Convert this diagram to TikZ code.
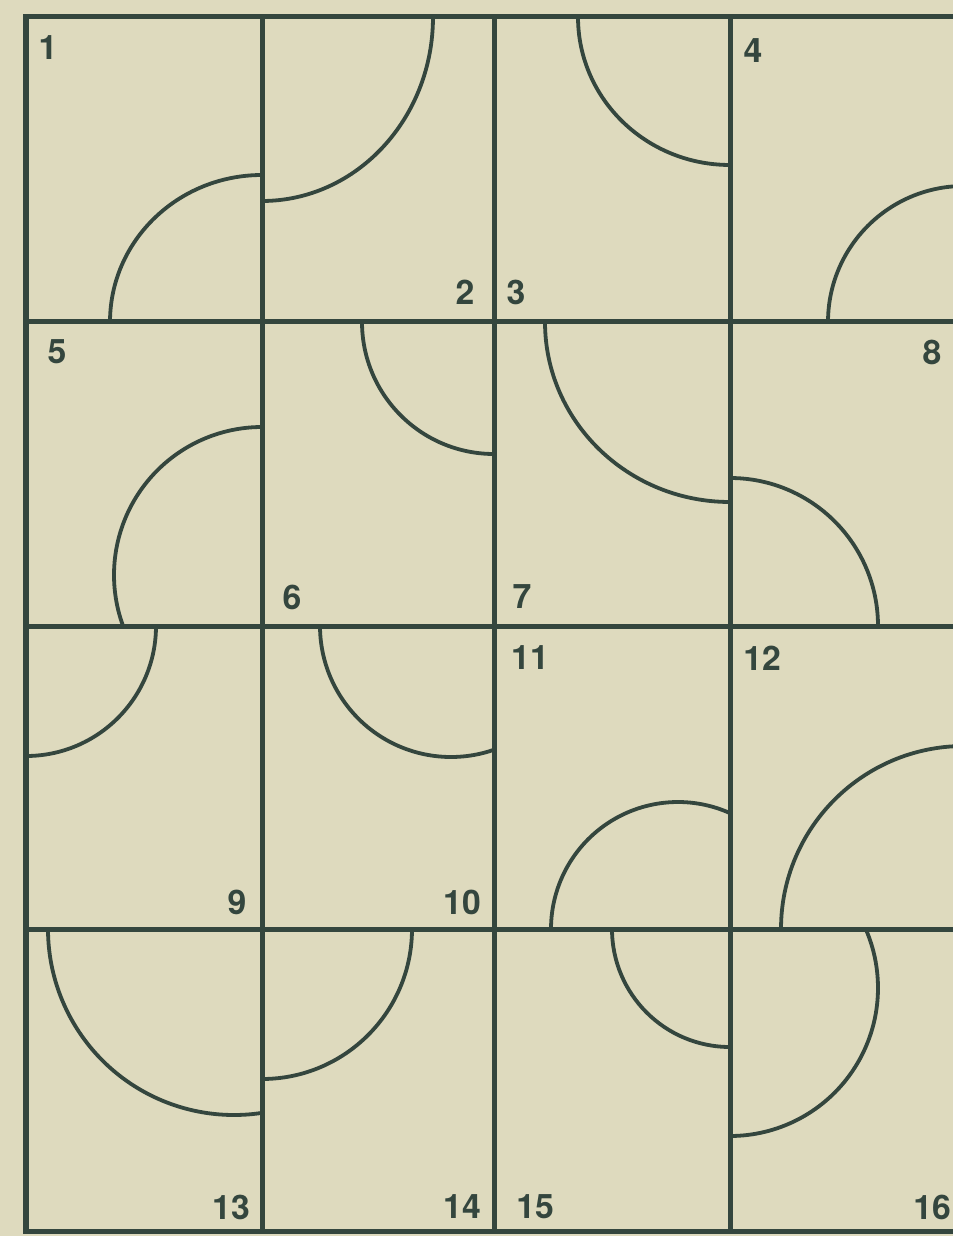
\documentclass[tikz,border=0pt]{standalone}
\usepackage{fontspec}
\setmainfont{TeX Gyre Heros}
\usepackage{tikz}
\definecolor{paper}{RGB}{222,218,190}
\definecolor{ink}{RGB}{52,70,62}

\begin{document}
\begin{tikzpicture}[
    tileline/.style={draw=ink, line width=0.05cm},
    arcline/.style={draw=ink, line width=0.038cm},
    tilenum/.style={text=ink, inner sep=0pt, font=\fontsize{9.6}{10}\selectfont\bfseries}]
        \useasboundingbox (0,0) rectangle (9.53,-12.36);
        \clip (0,0) rectangle (9.53,-12.36);
        \fill[paper] (0,0) rectangle (9.53,-12.36);

        % frame and tile borders
        \draw[tileline] (0.26,-0.17) rectangle (9.64,-12.31);
        \draw[tileline] (2.62,-0.17) -- (2.62,-12.31);
        \draw[tileline] (4.94,-0.17) -- (4.94,-12.31);
        \draw[tileline] (7.30,-0.17) -- (7.30,-12.31);
        \draw[tileline] (0.26,-3.22) -- (9.64,-3.22);
        \draw[tileline] (0.26,-6.26) -- (9.64,-6.26);
        \draw[tileline] (0.26,-9.29) -- (9.64,-9.29);

        % row 1
        \draw[arcline] ([shift={(180:1.52 and 1.47)}]2.62,-3.22) arc[start angle=180, end angle=90, x radius=1.52, y radius=1.47];
        \draw[arcline] ([shift={(0:1.71 and 1.84)}]2.62,-0.17) arc[start angle=0, end angle=-90, x radius=1.71, y radius=1.84];
        \draw[arcline] ([shift={(180:1.52 and 1.48)}]7.30,-0.17) arc[start angle=180, end angle=270, x radius=1.52, y radius=1.48];
        \draw[arcline] ([shift={(180:1.36)}]9.64,-3.22) arc[start angle=180, end angle=90, radius=1.36];

        % row 2
        \draw[arcline] ([shift={(90:1.48)}]2.62,-5.75) arc[start angle=90, end angle=200, radius=1.48];
        \draw[arcline] ([shift={(180:1.32)}]4.94,-3.22) arc[start angle=180, end angle=270, radius=1.32];
        \draw[arcline] ([shift={(180:1.85 and 1.80)}]7.30,-3.22) arc[start angle=180, end angle=270, x radius=1.85, y radius=1.80];
        \draw[arcline] ([shift={(90:1.48)}]7.30,-6.26) arc[start angle=90, end angle=0, radius=1.48];

        % row 3
        \draw[arcline] ([shift={(0:1.30)}]0.26,-6.26) arc[start angle=0, end angle=-90, radius=1.30];
        \draw[arcline] ([shift={(180:1.31)}]4.51,-6.26) arc[start angle=180, end angle=289, radius=1.31];
        \draw[arcline] ([shift={(180:1.27)}]6.78,-9.29) arc[start angle=180, end angle=66, radius=1.27];
        \draw[arcline] ([shift={(180:1.83)}]9.64,-9.29) arc[start angle=180, end angle=90, radius=1.83];

        % row 4
        \draw[arcline] ([shift={(180:1.86)}]2.34,-9.29) arc[start angle=180, end angle=278.6, radius=1.86];
        \draw[arcline] ([shift={(0:1.50)}]2.62,-9.29) arc[start angle=0, end angle=-90, radius=1.50];
        \draw[arcline] ([shift={(180:1.18)}]7.30,-9.29) arc[start angle=180, end angle=270, radius=1.18];
        \draw[arcline] ([shift={(23.5:1.48)}]7.30,-9.88) arc[start angle=23.5, end angle=-90, radius=1.48];

        % tile numbers
        \node[tilenum] (n1) at (0.48,-0.48) {1};
        \node[tilenum] (n2) at (4.65,-2.92) {2};
        \node[tilenum] (n3) at (5.16,-2.92) {3};
        \node[tilenum] (n4) at (7.53,-0.51) {4};
        \node[tilenum] (n5) at (0.57,-3.52) {5};
        \node[tilenum] (n6) at (2.92,-5.97) {6};
        \node[tilenum] (n7) at (5.22,-5.97) {7};
        \node[tilenum] (n8) at (9.32,-3.52) {8};
        \node[tilenum] (n9) at (2.37,-9.02) {9};
        \node[tilenum] (n10) at (4.62,-9.02) {10};
        \node[tilenum] (n11) at (5.30,-6.58) {11};
        \node[tilenum] (n12) at (7.62,-6.58) {12};
        \node[tilenum] (n13) at (2.31,-12.07) {13};
        \node[tilenum] (n14) at (4.62,-12.07) {14};
        \node[tilenum] (n15) at (5.35,-12.07) {15};
        \node[tilenum] (n16) at (9.32,-12.07) {16};
    \end{tikzpicture}
\end{document}
